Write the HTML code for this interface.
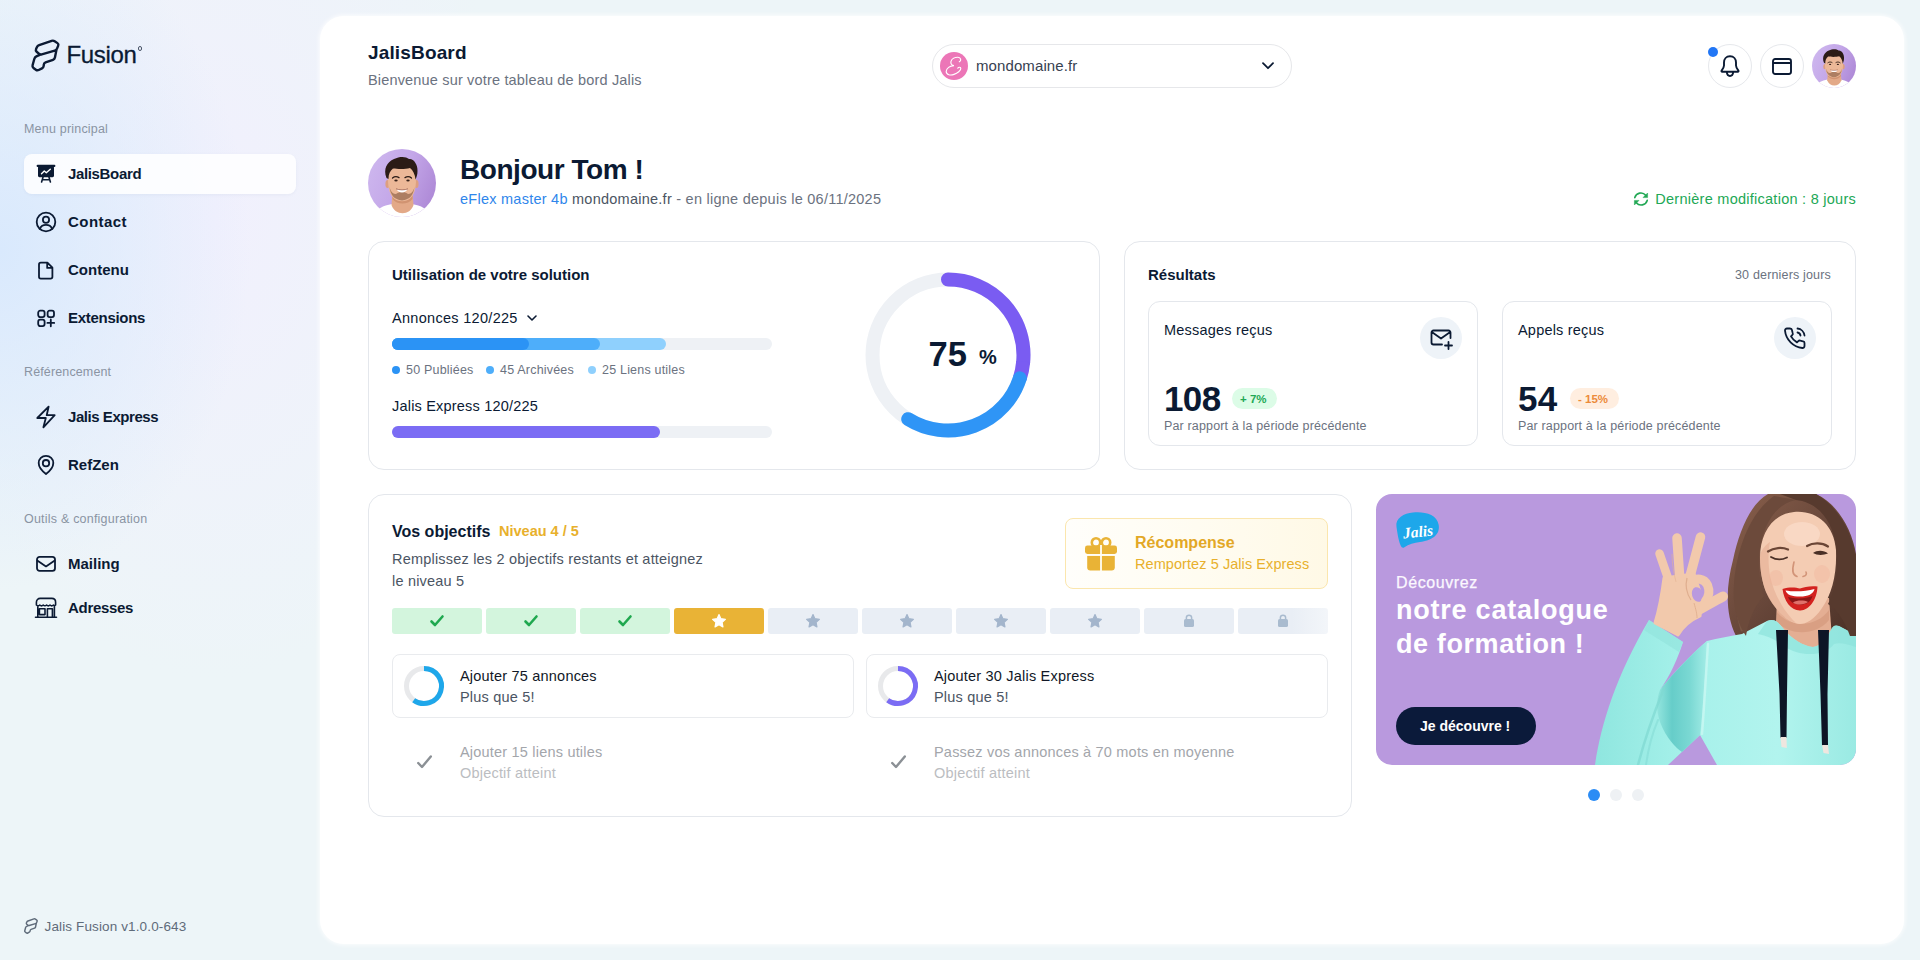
<!DOCTYPE html>
<html lang="fr">
<head>
<meta charset="utf-8">
<title>JalisBoard</title>
<style>
*{box-sizing:border-box;margin:0;padding:0}
html,body{width:1920px;height:960px;overflow:hidden}
body{font-family:"Liberation Sans",sans-serif;color:#0b1a33;position:relative;
background:
 radial-gradient(ellipse 250px 340px at 0px 250px,rgba(217,233,253,1) 0%,rgba(217,233,253,0) 100%),
 radial-gradient(ellipse 300px 460px at 215px 220px,rgba(241,240,253,1) 0%,rgba(241,240,253,0) 100%),
 #edf5f8;}
.t{position:absolute;white-space:nowrap;line-height:1}
.b{font-weight:700}
.abs{position:absolute}
svg{position:absolute;overflow:visible}
.ic{fill:none;stroke:#0b1a33;stroke-width:1.8;stroke-linecap:round;stroke-linejoin:round}
.nav{position:absolute;left:68px;font-weight:700;font-size:15px;color:#0b1a33;line-height:1;white-space:nowrap}
.sec{position:absolute;left:24px;font-size:12.5px;color:#8a94a3;line-height:1;white-space:nowrap}
#main{position:absolute;left:320px;top:16px;width:1584px;height:928px;background:#fff;border-radius:24px;box-shadow:0 0 4px 1px rgba(255,255,255,.85)}
.card{position:absolute;background:#fff;border:1px solid #e4e7ec;border-radius:16px}
.sub{position:absolute;background:#fff;border:1px solid #e4e7ec;border-radius:12px}
.g{color:#6b7280}
</style>
</head>
<body>
<!-- SIDEBAR -->
<div id="side">
  <svg id="logo" style="left:32px;top:40px" width="30" height="32" viewBox="0 0 30 32"><path class="ic" style="stroke-width:2.4" d="M4.86 7.26 Q5.54 5.71 7.15 5.15 L19.64 0.85 Q21.25 0.29 22.66 1.24 L25.46 3.13 Q26.87 4.08 26.22 5.65 L25.01 8.60 Q24.36 10.18 22.73 10.64 L9.75 14.32 Q8.11 14.78 6.83 13.66 L4.66 11.77 Q3.37 10.65 4.06 9.09 Z M24.50 9.63 L22.93 17.58 Q22.60 19.25 21.00 19.82 L13.57 22.47 Q11.97 23.04 11.80 24.73 L11.68 25.89 Q11.50 27.58 9.98 28.34 L6.72 29.99 Q5.20 30.76 3.85 29.73 L1.48 27.93 Q0.12 26.90 0.58 25.26 L2.38 18.72 Q2.83 17.08 4.38 16.38 L8.25 14.64"/></svg>
  <div class="t" id="fus" style="left:66.500px;top:43.300px;font-size:24px;letter-spacing:-.35px;color:#0b1a33;-webkit-text-stroke:.3px #0b1a33">Fusion</div>
  <div class="abs" style="left:137.500px;top:46px;width:4.500px;height:4.500px;border:1.200px solid #4a5568;border-radius:50%"></div>


  <div class="sec" style="top:122.500px;letter-spacing:.2px">Menu principal</div>
  <div class="abs" style="left:24px;top:154px;width:272px;height:40px;border-radius:8px;background:rgba(255,255,255,.85);box-shadow:0 1px 3px rgba(160,170,200,.12)"></div>
  <div class="nav" style="top:166px;letter-spacing:-0.35px">JalisBoard</div>
  <div class="nav" style="top:214px;letter-spacing:0.45px">Contact</div>
  <div class="nav" style="top:262px">Contenu</div>
  <div class="nav" style="top:310px;letter-spacing:-0.29px">Extensions</div>
  <div class="sec" style="top:365.500px;letter-spacing:.13px">Référencement</div>
  <div class="nav" style="top:409px;letter-spacing:-0.45px">Jalis Express</div>
  <div class="nav" style="top:457px">RefZen</div>
  <div class="sec" style="top:512.500px;letter-spacing:.21px">Outils &amp; configuration</div>
  <div class="nav" style="top:556px">Mailing</div>
  <div class="nav" style="top:600px;letter-spacing:-0.3px">Adresses</div>

  <!-- nav icons -->
  <svg style="left:36px;top:164px" width="20" height="20" viewBox="0 0 20 20"><rect x="0.600" y="0.800" width="18.800" height="2.200" rx="1" fill="#0b1a33"/><rect x="2" y="2" width="16" height="11.200" rx="1.400" fill="#0b1a33"/><path d="M5.500 9.800 L8.300 7 L10.300 8.800 L14.300 5.200" fill="none" stroke="#fff" stroke-width="1.400" stroke-linecap="round" stroke-linejoin="round"/><path class="ic" style="stroke-width:1.600" d="M7 13.200 L5.600 18 M13 13.200 L14.400 18 M6.200 15.800 L13.800 15.800"/></svg>
  <svg style="left:35px;top:211px" width="22" height="22" viewBox="0 0 22 22"><circle class="ic" cx="11" cy="11" r="9.300"/><circle class="ic" cx="11" cy="8.700" r="3.100"/><path class="ic" d="M4.800 17.800 C6 15 8.400 13.900 11 13.900 C13.600 13.900 16 15 17.200 17.800"/></svg>
  <svg style="left:38px;top:261px" width="16" height="19" viewBox="0 0 16 19"><path class="ic" d="M2.800 1.700 L9.400 1.700 L14.400 6.700 L14.400 15.800 C14.400 16.800 13.600 17.600 12.600 17.600 L2.800 17.600 C1.800 17.600 1 16.800 1 15.800 L1 3.500 C1 2.500 1.800 1.700 2.800 1.700 Z M9.200 2 L9.200 6.900 L14.200 6.900"/></svg>
  <svg style="left:37px;top:309px" width="19" height="18" viewBox="0 0 19 18"><rect class="ic" x="1.200" y="1.700" width="6.400" height="6.400" rx="2"/><rect class="ic" x="10.600" y="1.700" width="6.400" height="6.400" rx="2"/><rect class="ic" x="1.200" y="10.700" width="6.400" height="6.400" rx="2"/><path class="ic" d="M13.800 10.500 L13.800 17.300 M10.400 13.900 L17.200 13.900"/></svg>
  <svg style="left:36px;top:405px" width="20" height="24" viewBox="0 0 20 24"><path class="ic" d="M12.600 1.700 L1.300 13 L9.800 13 L7.400 22.300 L18.700 10.200 L10.700 10.200 Z"/></svg>
  <svg style="left:37px;top:454px" width="18" height="22" viewBox="0 0 18 22"><path class="ic" d="M9 1.800 C4.900 1.800 1.700 5 1.700 9 C1.700 13.400 5.600 17.400 9 20 C12.400 17.400 16.300 13.400 16.300 9 C16.300 5 13.100 1.800 9 1.800 Z"/><circle class="ic" cx="9" cy="9.200" r="3.200"/></svg>
  <svg style="left:36px;top:556px" width="20" height="16" viewBox="0 0 20 16"><rect class="ic" x="1" y="0.900" width="18" height="14" rx="2.600"/><path class="ic" d="M1.600 4.800 L10 10.400 L18.400 4.800"/></svg>
  <svg style="left:35px;top:597px" width="22" height="21" viewBox="0 0 22 21"><path class="ic" style="stroke-width:1.600" d="M1.400 8 L1.400 5.200 C1.400 3 3 1.400 5.200 1.400 L16.800 1.400 C19 1.400 20.600 3 20.600 5.200 L20.600 8 M1.400 8 C2.400 9 3.800 9 4.800 8 C5.800 9 7.200 9 8.200 8 C9.200 9 10.600 9 11.600 8 C12.600 9 14 9 15 8 C16 9 17.400 9 18.400 8 C19.200 8.800 20 8.600 20.600 8 M2.800 8.800 L2.800 20 M19.400 8.800 L19.400 20 M0.500 20.200 L21.500 20.200 M4.400 11.700 L10 11.700 L10 17.600 L4.400 17.600 Z M12.400 20 L12.400 11.700 L17.400 11.700 L17.400 20"/></svg>
  <svg style="left:24px;top:918px" width="14" height="16" viewBox="-1 -1 29 33"><path class="ic" style="stroke-width:3;stroke:#5f6b7a" d="M4.86 7.26 Q5.54 5.71 7.15 5.15 L19.64 0.85 Q21.25 0.29 22.66 1.24 L25.46 3.13 Q26.87 4.08 26.22 5.65 L25.01 8.60 Q24.36 10.18 22.73 10.64 L9.75 14.32 Q8.11 14.78 6.83 13.66 L4.66 11.77 Q3.37 10.65 4.06 9.09 Z M24.50 9.63 L22.93 17.58 Q22.60 19.25 21.00 19.82 L13.57 22.47 Q11.97 23.04 11.80 24.73 L11.68 25.89 Q11.50 27.58 9.98 28.34 L6.72 29.99 Q5.20 30.76 3.85 29.73 L1.48 27.93 Q0.12 26.90 0.58 25.26 L2.38 18.72 Q2.83 17.08 4.38 16.38 L8.25 14.64"/></svg>
  <div class="t" id="ver" style="left:44.500px;top:919.700px;font-size:13.5px;letter-spacing:.13px;color:#5f6b7a">Jalis Fusion v1.0.0-643</div>
</div>

<!-- MAIN -->
<div id="main"></div>

<!-- HEADER -->
<div class="t b" style="left:368px;top:43px;font-size:19px;letter-spacing:.15px;color:#0b1a33">JalisBoard</div>
<div class="t g" style="left:368px;top:73px;font-size:14.5px;letter-spacing:.17px">Bienvenue sur votre tableau de bord Jalis</div>

<div class="abs" style="left:932px;top:43.500px;width:360px;height:44px;border:1px solid #e6e7ea;border-radius:22px;background:#fff"></div>
<div class="abs" style="left:940px;top:51.500px;width:28px;height:28px;border-radius:50%;background:#ec76b7"></div>
<svg style="left:940px;top:51.500px" width="28" height="28" viewBox="0 0 28 28"><path d="M19.300 9.800 C21.600 8.800 21 5.400 18 5.300 C15 5.200 11.800 6.800 11 9.400 C10.400 11.600 11.600 13.400 14 13.600 C10 13.600 6.200 16.400 6.200 19.600 C6.200 23 10.600 23.600 14 22.400 C17.600 21.200 20.800 18.400 20.800 16.600 C20.800 15 18.800 14.800 17.800 16.200" fill="none" stroke="#fff" stroke-width="1.150" stroke-linecap="round"/></svg>
<div class="t" style="left:976px;top:57.500px;font-size:15px;letter-spacing:.1px;color:#374151">mondomaine.fr</div>
<svg style="left:1262px;top:61.500px" width="12" height="8" viewBox="0 0 12 8"><path class="ic" style="stroke-width:1.8" d="M1 1.2 L6 6.2 L11 1.2"/></svg>

<div class="abs" style="left:1708px;top:43.500px;width:44px;height:44px;border:1px solid #e6e8ec;border-radius:50%;background:#fff"></div>
<div class="abs" style="left:1760px;top:43.500px;width:44px;height:44px;border:1px solid #e6e8ec;border-radius:50%;background:#fff"></div>
<div class="abs" style="left:1708px;top:46.500px;width:10px;height:10px;border-radius:50%;background:#2176f5"></div>
<svg style="left:1720px;top:54.700px" width="20" height="22" viewBox="0 0 20 22"><path class="ic" style="stroke-width:1.9" d="M10 1.2 C6.2 1.2 4 4 4 7.4 L4 10.6 C4 12.4 3 13.8 1.6 15.6 C1.2 16.2 1.5 16.8 2.2 16.8 L17.8 16.8 C18.5 16.8 18.8 16.2 18.4 15.6 C17 13.8 16 12.4 16 10.6 L16 7.4 C16 4 13.8 1.2 10 1.2 Z M6.8 17.2 C7 19.4 8.4 21 10 21 C11.6 21 13 19.400 13.2 17.2"/></svg>
<svg style="left:1772px;top:57.500px" width="20" height="17" viewBox="0 0 20 17"><path class="ic" style="stroke-width:1.9" d="M3.2 1 L16.8 1 C18 1 19 2 19 3.2 L19 13.8 C19 15 18 16 16.8 16 L3.2 16 C2 16 1 15 1 13.8 L1 3.2 C1 2 2 1 3.2 1 Z M1 5 L19 5"/></svg>
<!-- top avatar -->
<svg style="left:1812px;top:43.500px" width="44" height="44" viewBox="0 0 68 68"><use href="#avatar"/></svg>

<!-- GREETING -->
<svg style="left:368px;top:149px" width="68" height="68" viewBox="0 0 68 68">
 <defs>
  <linearGradient id="avbg" x1="0" y1="0.3" x2="1" y2="0.7"><stop offset="0" stop-color="#cdb6ee"/><stop offset=".5" stop-color="#c3a6e8"/><stop offset="1" stop-color="#ad88d6"/></linearGradient>
  <clipPath id="avc"><circle cx="34" cy="34" r="34"/></clipPath>
  <g id="avatar">
   <circle cx="34" cy="34" r="34" fill="url(#avbg)"/>
   <g clip-path="url(#avc)">
    <path d="M4 72 C6 60 14 57 24 55 L44 55 C54 57 62 60 64 72 Z" fill="#ffffff"/>
    <path d="M24.5 44 L44.5 44 L45.5 56 C42 67 27 67 23.5 56 Z" fill="#e3a988"/>
    <path d="M24.5 46 C28 53 40 53 44.5 46 L44.5 50 C40 56 29 56 24.5 50 Z" fill="#c98a68" opacity=".7"/>
    <ellipse cx="19.6" cy="35" rx="2.2" ry="4" fill="#dd9f80"/>
    <ellipse cx="48.4" cy="35" rx="2.2" ry="4" fill="#dd9f80"/>
    <path d="M20 30 C20 20 26 16 34 16 C42 16 48 20 48 30 C48 40 46 46 42 49.5 C38 53 30 53 26 49.5 C22 46 20 40 20 30 Z" fill="#ecb898"/>
    <path d="M21.5 38 C22.5 46 26 50.5 34 51.5 C42 50.5 45.500 46 46.500 38 C45 44 41 46.500 38.500 44 C36 42.500 32 42.500 29.500 44 C27 46.500 23 44 21.500 38 Z" fill="#7a4e36" opacity=".55"/>
    <path d="M18.500 29 C15 20 19 13 26 10 C32 7 38 7.500 41 10 C45 9 50 15 49.500 22 C49.500 26 48.500 28 47.500 30.500 C47 25 45 21.500 42 19 C37 20.500 29 20 25 19.500 C22 22 20.500 25 20.500 30 Z" fill="#2b1b16"/>
    <path d="M24.5 29 C26.5 27.4 29 27.4 31 28.600 M37 28.600 C39 27.400 41.500 27.400 43.500 29" stroke="#2b1b16" stroke-width="1.3" fill="none" stroke-linecap="round"/>
    <ellipse cx="28" cy="31.500" rx="1.700" ry="1" fill="#3a241c"/><ellipse cx="40" cy="31.500" rx="1.700" ry="1" fill="#3a241c"/>
    <path d="M28.500 40 C31 41 37 41 39.500 40 C38 44.500 30 44.500 28.500 40 Z" fill="#fff"/>
    <path d="M28 39.800 C31 41.200 37 41.200 40 39.800" stroke="#9a5a48" stroke-width=".8" fill="none"/>
   </g>
  </g>
 </defs>
 <use href="#avatar"/>
</svg>
<div class="t b" style="left:460px;top:156px;font-size:28px;color:#0b1a33;letter-spacing:-.45px">Bonjour Tom !</div>
<div class="t" style="left:460px;top:192px;font-size:14.5px;letter-spacing:.25px;color:#6b7280"><span style="color:#2f86eb">eFlex master 4b</span> <span style="color:#4b5563">mondomaine.fr</span> - en ligne depuis le 06/11/2025</div>

<svg style="left:1632.500px;top:191px" width="16" height="16" viewBox="0 0 16 16"><path d="M1.800 6.600 A6.300 6.300 0 0 1 12.700 4.300 M14.200 9.400 A6.300 6.300 0 0 1 3.300 11.700" fill="none" stroke="#22a855" stroke-width="1.650" stroke-linecap="round"/><path d="M14.600 2 L14.600 6.600 L10 6.600 Z M1.400 14 L1.400 9.400 L6 9.400 Z" fill="#22a855" stroke="#22a855" stroke-width=".5" stroke-linejoin="round"/></svg>
<div class="t" id="dm" style="right:64px;top:192px;font-size:14.5px;letter-spacing:.26px;color:#22a855">Dernière modification : 8 jours</div>

<!-- CARDS -->
<div class="card" style="left:368px;top:241px;width:732px;height:229px"></div>
<div class="t b" style="left:392px;top:267px;font-size:15px">Utilisation de votre solution</div>
<div class="t" style="left:392px;top:311px;font-size:14.5px;letter-spacing:.3px;color:#0b1a33">Annonces 120/225</div>
<svg style="left:527px;top:315px" width="10" height="7" viewBox="0 0 10 7"><path class="ic" style="stroke-width:1.6" d="M1 1 L5 5 L9 1"/></svg>
<div class="abs" style="left:392px;top:338px;width:380px;height:12px;border-radius:6px;background:#eef1f5"></div>
<div class="abs" style="left:392px;top:338px;width:274px;height:12px;border-radius:6px;background:#8fd0fd"></div>
<div class="abs" style="left:392px;top:338px;width:208px;height:12px;border-radius:6px;background:#4eaefa"></div>
<div class="abs" style="left:392px;top:338px;width:137px;height:12px;border-radius:6px;background:#2b93f5"></div>
<div class="abs" style="left:392px;top:366px;width:8px;height:8px;border-radius:50%;background:#2b93f5"></div>
<div class="t g" style="left:406px;top:364px;font-size:12.5px;letter-spacing:.2px">50 Publiées</div>
<div class="abs" style="left:486px;top:366px;width:8px;height:8px;border-radius:50%;background:#4eaefa"></div>
<div class="t g" style="left:500px;top:364px;font-size:12.5px;letter-spacing:.2px">45 Archivées</div>
<div class="abs" style="left:588px;top:366px;width:8px;height:8px;border-radius:50%;background:#8fd0fd"></div>
<div class="t g" style="left:602px;top:364px;font-size:12.5px;letter-spacing:.2px">25 Liens utiles</div>
<div class="t" style="left:392px;top:399px;font-size:14.5px;letter-spacing:.2px;color:#0b1a33">Jalis Express 120/225</div>
<div class="abs" style="left:392px;top:426px;width:380px;height:12px;border-radius:6px;background:#eef1f5"></div>
<div class="abs" style="left:392px;top:426px;width:268px;height:12px;border-radius:6px;background:#7b6cf4"></div>
<!-- donut -->
<svg style="left:858px;top:265.300px" width="180" height="180" viewBox="0 0 180 180">
 <circle cx="90" cy="90" r="75.5" fill="none" stroke="#eef1f5" stroke-width="14"/>
 <path d="M 90.00 14.50 A 75.5 75.5 0 0 1 165.21 96.58" fill="none" stroke="#7a5cf2" stroke-width="14" stroke-linecap="round"/>
 <path d="M 165.21 96.58 A 75.5 75.5 0 0 1 161.80 113.33" fill="none" stroke="#7a5cf2" stroke-width="14"/>
 <path d="M 161.80 113.33 A 75.5 75.5 0 0 1 50.21 154.17" fill="none" stroke="#2f95f6" stroke-width="14" stroke-linecap="round"/>
</svg>
<div class="t b" style="left:928.500px;top:336.500px;font-size:34.5px;color:#0b1a33">75</div>
<div class="t b" style="left:979px;top:347px;font-size:20px;color:#0b1a33">%</div>

<div class="card" style="left:1124px;top:241px;width:732px;height:229px"></div>
<div class="t b" style="left:1148px;top:267px;font-size:15px">Résultats</div>
<div class="t g" style="right:89px;top:269px;font-size:12.500px;letter-spacing:.17px">30 derniers jours</div>
<div class="sub" style="left:1148px;top:301px;width:330px;height:145px"></div>
<div class="sub" style="left:1502px;top:301px;width:330px;height:145px"></div>
<div class="t" style="left:1164px;top:323px;font-size:14.5px;letter-spacing:.2px;color:#0b1a33">Messages reçus</div>
<div class="t" style="left:1518px;top:323px;font-size:14.5px;letter-spacing:.2px;color:#0b1a33">Appels reçus</div>
<div class="abs" style="left:1420px;top:317px;width:42px;height:42px;border-radius:50%;background:#eef3f8"></div>
<div class="abs" style="left:1774px;top:317px;width:42px;height:42px;border-radius:50%;background:#eef3f8"></div>
<svg style="left:1430px;top:329px" width="24" height="22" viewBox="0 0 24 22"><path class="ic" style="stroke-width:1.8" d="M20.500 9 L20.500 3.500 C20.500 2.400 19.600 1.500 18.500 1.500 L3.500 1.500 C2.400 1.500 1.500 2.400 1.500 3.500 L1.500 13.500 C1.500 14.600 2.400 15.500 3.500 15.500 L12 15.500 M1.800 3 L11 9.500 L20.200 3 M18.500 13 L18.500 20 M15 16.500 L22 16.500"/></svg>
<svg style="left:1783px;top:326px" width="24" height="24" viewBox="0 0 24 24"><path class="ic" style="stroke-width:1.8" d="M14.500 2.500 C18.200 2.900 21.100 5.800 21.500 9.500 M14.500 6.500 C16.100 6.800 17.200 7.900 17.500 9.500 M21.500 17 L21.500 20 C21.500 21.200 20.500 22.100 19.300 22 C10.300 21.100 2.900 13.700 2 4.700 C1.900 3.500 2.800 2.500 4 2.500 L7 2.500 C8 2.500 8.900 3.200 9 4.200 C9.100 5.200 9.400 6.100 9.700 7 C10 7.700 9.800 8.600 9.200 9.100 L8 10.400 C9.400 12.900 11.500 15 14 16.400 L15.300 15.100 C15.800 14.600 16.700 14.400 17.400 14.700 C18.300 15 19.200 15.300 20.200 15.400 C21.200 15.500 21.500 16 21.500 17 Z"/></svg>
<div class="t b" style="left:1164px;top:381px;font-size:35px;color:#0b1a33;letter-spacing:-.6px">108</div>
<div class="t b" style="left:1518px;top:381px;font-size:35px;color:#0b1a33;letter-spacing:.2px">54</div>
<div class="abs" style="left:1232px;top:388px;width:45px;height:21px;border-radius:11px;background:#dcfce7"></div>
<div class="t b" style="left:1240px;top:394px;font-size:11.500px;color:#22a855">+ 7%</div>
<div class="abs" style="left:1570px;top:388px;width:49px;height:21px;border-radius:11px;background:#ffeee0"></div>
<div class="t b" style="left:1578px;top:394px;font-size:11.500px;color:#ec8a3a">- 15%</div>
<div class="t g" style="left:1164px;top:420px;font-size:12.500px;letter-spacing:.15px">Par rapport à la période précédente</div>
<div class="t g" style="left:1518px;top:420px;font-size:12.500px;letter-spacing:.15px">Par rapport à la période précédente</div>

<!-- OBJECTIFS -->
<div class="card" style="left:368px;top:494px;width:984px;height:323px"></div>
<div class="t b" style="left:392px;top:523.500px;font-size:16px">Vos objectifs</div>
<div class="t b" style="left:499px;top:524px;font-size:14.5px;color:#e8b02c">Niveau 4 / 5</div>
<div class="t" style="left:392px;top:552px;font-size:14.5px;letter-spacing:.2px;color:#4b5563">Remplissez les 2 objectifs restants et atteignez</div>
<div class="t" style="left:392px;top:574px;font-size:14.5px;letter-spacing:.2px;color:#4b5563">le niveau 5</div>

<div class="abs" style="left:1065px;top:518px;width:263px;height:71px;border:1px solid #fbe6ad;border-radius:8px;background:linear-gradient(90deg,#fffefb 0%,#fffcf1 50%,#fff9e6 100%)"></div>
<svg style="left:1085px;top:536px" width="32" height="35" viewBox="0 0 32 35">
 <g fill="none" stroke="#e9b336" stroke-width="2.600"><circle cx="11" cy="6.500" r="4.200"/><circle cx="21" cy="6.500" r="4.200"/></g>
 <rect x="0" y="9.500" width="32" height="8.500" rx="2.400" fill="#e9b336"/>
 <path d="M2.200 19.800 L29.800 19.800 L29.800 31.600 C29.800 33.400 28.600 34.600 26.800 34.600 L5.200 34.600 C3.400 34.600 2.200 33.400 2.200 31.600 Z" fill="#e9b336"/>
 <rect x="15.100" y="9" width="1.800" height="26" fill="#fffdf6"/>
 <rect x="2" y="18" width="28" height="1.800" fill="#fffdf6"/>
</svg>
<div class="t b" style="left:1135px;top:535px;font-size:16px;color:#e3a826">Récompense</div>
<div class="t" style="left:1135px;top:557px;font-size:14.5px;letter-spacing:.07px;color:#e8b02c">Remportez 5 Jalis Express</div>

<div class="abs" style="left:392px;top:608px;width:90px;height:26px;border-radius:3px;background:#d3f5dd"></div>
<svg style="left:430px;top:615px" width="14" height="12" viewBox="0 0 14 12"><path d="M1.500 6.500 L5 10 L12.500 1.500" fill="none" stroke="#1fa84f" stroke-width="2.600" stroke-linecap="round" stroke-linejoin="round"/></svg>
<div class="abs" style="left:486px;top:608px;width:90px;height:26px;border-radius:3px;background:#d3f5dd"></div>
<svg style="left:524px;top:615px" width="14" height="12" viewBox="0 0 14 12"><path d="M1.500 6.500 L5 10 L12.500 1.500" fill="none" stroke="#1fa84f" stroke-width="2.600" stroke-linecap="round" stroke-linejoin="round"/></svg>
<div class="abs" style="left:580px;top:608px;width:90px;height:26px;border-radius:3px;background:#d3f5dd"></div>
<svg style="left:618px;top:615px" width="14" height="12" viewBox="0 0 14 12"><path d="M1.500 6.500 L5 10 L12.500 1.500" fill="none" stroke="#1fa84f" stroke-width="2.600" stroke-linecap="round" stroke-linejoin="round"/></svg>
<div class="abs" style="left:674px;top:608px;width:90px;height:26px;border-radius:3px;background:#e9b336"></div>
<svg style="left:712px;top:614px" width="14" height="14" viewBox="0 0 14 14"><path d="M7 0.6 L8.9 4.700 L13.400 5.300 L10.100 8.400 L10.950 12.900 L7 10.700 L3.050 12.900 L3.900 8.400 L0.600 5.300 L5.100 4.700 Z" fill="#fff" stroke="#fff" stroke-width="1.2" stroke-linejoin="round"/></svg>
<div class="abs" style="left:768px;top:608px;width:90px;height:26px;border-radius:3px;background:#e9eef5"></div>
<svg style="left:806px;top:614px" width="14" height="14" viewBox="0 0 14 14"><path d="M7 0.6 L8.9 4.700 L13.400 5.300 L10.100 8.400 L10.950 12.900 L7 10.700 L3.050 12.900 L3.900 8.400 L0.600 5.300 L5.100 4.700 Z" fill="#a3b5cc" stroke="#a3b5cc" stroke-width="1.2" stroke-linejoin="round"/></svg>
<div class="abs" style="left:862px;top:608px;width:90px;height:26px;border-radius:3px;background:#e9eef5"></div>
<svg style="left:900px;top:614px" width="14" height="14" viewBox="0 0 14 14"><path d="M7 0.6 L8.9 4.700 L13.400 5.300 L10.100 8.400 L10.950 12.900 L7 10.700 L3.050 12.900 L3.900 8.400 L0.600 5.300 L5.100 4.700 Z" fill="#a3b5cc" stroke="#a3b5cc" stroke-width="1.2" stroke-linejoin="round"/></svg>
<div class="abs" style="left:956px;top:608px;width:90px;height:26px;border-radius:3px;background:#e9eef5"></div>
<svg style="left:994px;top:614px" width="14" height="14" viewBox="0 0 14 14"><path d="M7 0.6 L8.9 4.700 L13.400 5.300 L10.100 8.400 L10.950 12.900 L7 10.700 L3.050 12.900 L3.900 8.400 L0.600 5.300 L5.100 4.700 Z" fill="#a3b5cc" stroke="#a3b5cc" stroke-width="1.2" stroke-linejoin="round"/></svg>
<div class="abs" style="left:1050px;top:608px;width:90px;height:26px;border-radius:3px;background:#e9eef5"></div>
<svg style="left:1088px;top:614px" width="14" height="14" viewBox="0 0 14 14"><path d="M7 0.6 L8.9 4.700 L13.400 5.300 L10.100 8.400 L10.950 12.900 L7 10.700 L3.050 12.900 L3.900 8.400 L0.600 5.300 L5.100 4.700 Z" fill="#a3b5cc" stroke="#a3b5cc" stroke-width="1.2" stroke-linejoin="round"/></svg>
<div class="abs" style="left:1144px;top:608px;width:90px;height:26px;border-radius:3px;background:#e9eef5"></div>
<svg style="left:1184px;top:614px" width="10" height="13" viewBox="0 0 10 13"><path d="M2.400 5.500 L2.400 3.600 C2.400 0.400 7.600 0.400 7.600 3.600 L7.600 5.500" fill="none" stroke="#a9bbcf" stroke-width="1.500"/><rect x="0" y="5" width="10" height="8" rx="1.600" fill="#a9bbcf"/></svg>
<div class="abs" style="left:1238px;top:608px;width:90px;height:26px;border-radius:3px;background:linear-gradient(90deg,#e9eef5 60%,rgba(233,238,245,.55) 100%)"></div>
<svg style="left:1278px;top:614px" width="10" height="13" viewBox="0 0 10 13"><path d="M2.400 5.500 L2.400 3.600 C2.400 0.400 7.600 0.400 7.600 3.600 L7.600 5.500" fill="none" stroke="#a9bbcf" stroke-width="1.500"/><rect x="0" y="5" width="10" height="8" rx="1.600" fill="#a9bbcf"/></svg>

<div class="sub" style="left:392px;top:654px;width:462px;height:64px;border-radius:8px;border-color:#e9ebee"></div>
<div class="sub" style="left:866px;top:654px;width:462px;height:64px;border-radius:8px;border-color:#e9ebee"></div>
<svg style="left:402px;top:664px" width="44" height="44" viewBox="0 0 44 44"><circle cx="22" cy="22" r="17.500" fill="none" stroke="#e8e9eb" stroke-width="5"/><path d="M22 4.500 A17.500 17.500 0 1 1 11.700 36.150" fill="none" stroke="#1ea7ea" stroke-width="5"/></svg>
<svg style="left:876px;top:664px" width="44" height="44" viewBox="0 0 44 44"><circle cx="22" cy="22" r="17.500" fill="none" stroke="#e8e9eb" stroke-width="5"/><path d="M22 4.500 A17.500 17.500 0 1 1 11.700 36.150" fill="none" stroke="#7b6cf4" stroke-width="5"/></svg>
<div class="t" style="left:460px;top:669px;font-size:14.5px;letter-spacing:.2px;color:#111827">Ajouter 75 annonces</div>
<div class="t" style="left:460px;top:690px;font-size:14.5px;letter-spacing:.2px;color:#4b5563">Plus que 5!</div>
<div class="t" style="left:934px;top:669px;font-size:14.5px;letter-spacing:.2px;color:#111827">Ajouter 30 Jalis Express</div>
<div class="t" style="left:934px;top:690px;font-size:14.5px;letter-spacing:.2px;color:#4b5563">Plus que 5!</div>

<svg style="left:417px;top:755px" width="15" height="14" viewBox="0 0 15 14"><path d="M1.200 8 L5 12 L13.800 1.500" fill="none" stroke="#8b9095" stroke-width="2.400" stroke-linecap="round" stroke-linejoin="round"/></svg>
<svg style="left:891px;top:755px" width="15" height="14" viewBox="0 0 15 14"><path d="M1.200 8 L5 12 L13.800 1.500" fill="none" stroke="#8b9095" stroke-width="2.400" stroke-linecap="round" stroke-linejoin="round"/></svg>
<div class="t" style="left:460px;top:745px;font-size:14.5px;letter-spacing:.2px;color:#a3a6ab">Ajouter 15 liens utiles</div>
<div class="t" style="left:460px;top:766px;font-size:14.5px;letter-spacing:.2px;color:#bbbdc1">Objectif atteint</div>
<div class="t" style="left:934px;top:745px;font-size:14.5px;letter-spacing:.2px;color:#a3a6ab">Passez vos annonces à 70 mots en moyenne</div>
<div class="t" style="left:934px;top:766px;font-size:14.5px;letter-spacing:.2px;color:#bbbdc1">Objectif atteint</div>

<!-- BANNER -->
<svg style="left:1376px;top:494px" width="480" height="271" viewBox="0 0 480 271">
 <defs>
  <clipPath id="bc"><rect x="0" y="0" width="480" height="271" rx="16"/></clipPath>
  <linearGradient id="hd" x1="0" y1="0" x2="1" y2="0"><stop offset="0" stop-color="#8fe6df"/><stop offset=".35" stop-color="#a6f1ea"/><stop offset=".7" stop-color="#b2f4ee"/><stop offset="1" stop-color="#9aeae3"/></linearGradient>
  <linearGradient id="sh" x1="0" y1="0" x2="1" y2="0"><stop offset="0" stop-color="#93e5de"/><stop offset=".3" stop-color="#66cdc9"/><stop offset=".65" stop-color="#7ad8d3"/><stop offset="1" stop-color="#a2ece6"/></linearGradient>
  <linearGradient id="hair" x1="0" y1="0" x2="1" y2="1"><stop offset="0" stop-color="#8a604c"/><stop offset=".5" stop-color="#68473a"/><stop offset="1" stop-color="#4a3026"/></linearGradient>
 </defs>
 <g clip-path="url(#bc)">
  <rect width="480" height="271" fill="#b999de"/>
  <!-- hair back -->
  <path d="M392 0 C374 10 363 38 357 66 C350 92 349 120 360 142 L398 148 L480 148 L480 60 C476 36 462 10 440 0 Z" fill="url(#hair)"/>
  <path d="M366 60 C360 84 358 110 366 136" stroke="#84604c" stroke-width="3" fill="none" opacity=".6" stroke-linecap="round"/>
  <path d="M466 40 C474 60 476 90 470 120" stroke="#84604c" stroke-width="3" fill="none" opacity=".5" stroke-linecap="round"/>
  <!-- neck -->
  <path d="M401 104 L453 104 L457 158 L399 158 Z" fill="#e4ae93"/>
  <path d="M401 118 C414 134 440 134 453 116 L453 126 C440 142 414 142 401 128 Z" fill="#cf9377" opacity=".55"/>
  <!-- hoodie -->
  <path d="M219 271 C225 230 240 182 273 126 L307 148 C302 164 294 182 284 196 C298 178 316 160 331 147 C342 144 355 142 366 140 L391 127 C398 124 402 128 406 133 C416 146 428 152 437 153 C446 152 452 142 456 134 C458 131 460 131 463 132 L480 141 L480 271 L341 271 L324 241 L292 271 Z" fill="url(#hd)"/>
  <path d="M331 147 C316 160 298 178 284 196 C280 206 280 216 284 228 C290 244 300 254 306 258 L324 241 C326 226 328 200 331 147 Z" fill="url(#sh)"/>
  <path d="M273 126 L307 148 L303 158 L268 136 Z" fill="#93e4dd" opacity=".7"/>
  <path d="M288 194 C280 214 270 240 262 271" stroke="#7fd8d2" stroke-width="2.500" fill="none" opacity=".7" stroke-linecap="round"/>
  <path d="M282 226 C276 240 272 256 270 271" stroke="#86dcd5" stroke-width="2" fill="none" opacity=".6" stroke-linecap="round"/>
  <path d="M332 150 C330 180 328 215 326 240" stroke="#c9f7f2" stroke-width="2.500" fill="none" opacity=".8" stroke-linecap="round"/>
  <path d="M391 127 C398 124 402 128 406 133 C416 146 428 152 437 153 C446 152 452 142 456 134 C458 131 460 131 463 132 L480 141 L480 153 C470 150 464 148 458 150 C450 162 424 164 408 152 C400 146 392 142 382 140 Z" fill="#8de2db" opacity=".7"/>
  <!-- face -->
  <path d="M384 64 C384 40 396 20 418 18 C440 16 458 30 460 56 C461 80 456 100 446 114 C438 126 430 130 424 130 C414 130 398 116 390 98 C386 88 384 76 384 64 Z" fill="#f4ccb3"/>
  <path d="M384 64 C384 80 388 96 394 106 C400 116 410 126 420 129 C408 118 398 100 394 82 C392 70 392 58 394 48 C388 52 384 58 384 64 Z" fill="#e3ab8f" opacity=".55"/>
  <ellipse cx="426" cy="40" rx="18" ry="12" fill="#fbe0cf" opacity=".6"/>
  <ellipse cx="446" cy="80" rx="8" ry="9" fill="#f2b7a0" opacity=".45"/>
  <ellipse cx="400" cy="84" rx="7" ry="8" fill="#f0b49c" opacity=".4"/>
  <!-- hair front -->
  <path d="M420 6 C400 10 386 30 383 62 C382 78 384 92 388 102 C378 112 372 128 370 142 C362 130 356 112 358 90 C360 60 372 20 398 2 Z" fill="#6c4a3b"/>
  <path d="M420 6 C440 8 456 24 460 52 C462 76 460 96 452 110 C462 116 470 130 474 142 L480 142 L480 70 C478 40 462 12 440 0 L404 0 Z" fill="#573a2e"/>
  <!-- brows / eyes -->
  <path d="M392 57.500 C398 53.500 406 53 412 55.500" stroke="#6b4636" stroke-width="2.200" fill="none" stroke-linecap="round"/>
  <path d="M431 52 C437 48.500 446 48.500 452 52.500" stroke="#6b4636" stroke-width="2.200" fill="none" stroke-linecap="round"/>
  <path d="M395 63 C400 66 406 66 411 63.500" stroke="#4a3026" stroke-width="1.800" fill="none" stroke-linecap="round"/>
  <path d="M437 59 C441 56 448 56 452 59.500 C447 61.500 441 61.500 437 59 Z" fill="#4a3026"/>
  <path d="M418 68 C416 76 416 81 421 82.500 M427 82.500 C430 82 431 80 430 78" stroke="#d29478" stroke-width="1.600" fill="none" stroke-linecap="round"/>
  <!-- mouth -->
  <path d="M406.500 95 C414 92.500 420 93.500 424 94.500 C428 93 435 91.500 441.500 92.500 C441 106 433 116 424.500 116.500 C415 117 408 107 406.500 95 Z" fill="#d3221f"/>
  <path d="M409.500 96.500 C418 98 430 97.500 438.500 95 C437.500 100 432 102.500 424 102.500 C416 102.500 411 101 409.500 96.500 Z" fill="#ffffff"/>
  <path d="M412 103 C418 105 430 105 436.500 102 C435 108 430 110.500 424.500 110.500 C418 110.500 414 108 412 103 Z" fill="#8a1616"/>
  <path d="M417 108.500 C421 106 428 106 432 108 C429 111 420 111.500 417 108.500 Z" fill="#e0706a"/>
  <!-- strings -->
  <path d="M400 136 L412 136 L411 200 L410.500 244 L404.500 244 L403.500 200 Z" fill="#0d1526"/>
  <path d="M442 136 L453 136 L451.500 200 L452 252 L446 252 L444.500 200 Z" fill="#0d1526"/>
  <path d="M404.500 243 L410.500 243 L410.800 254 L405.500 253 Z" fill="#efe6df"/>
  <path d="M446 251 L452 251 L453 260 L447.500 259 Z" fill="#efe6df"/>
  <!-- hand -->
  <g fill="#f2c9ac" stroke="#f2c9ac" stroke-linecap="round" stroke-linejoin="round">
   <path d="M283.500 59.500 L294 90" stroke-width="8.500" fill="none"/>
   <path d="M301 44 L304 88" stroke-width="9.500" fill="none"/>
   <path d="M324.500 43 L313 86" stroke-width="9.500" fill="none"/>
   <path d="M288 84 C286 100 283 116 279 129 L302 141 C308 131 315 126 324 122 L326 104 L318 80 Z" stroke-width="3"/>
  </g>
  <ellipse cx="321.500" cy="100.500" rx="5.500" ry="7.500" transform="rotate(-18 321.500 100.500)" fill="#b999de"/>
  <g fill="none" stroke="#f2c9ac" stroke-linecap="round" stroke-linejoin="round">
   <path d="M316.500 88 C320 83.500 328 84 331.500 91 C334 97 332.500 103 329.500 107" stroke-width="9"/>
   <path d="M321 117 C330 112 340 106 347 102.500" stroke-width="10"/>
  </g>
  <path d="M311 84 C309 92 311 100 315 106" stroke="#dba888" stroke-width="1.200" fill="none" opacity=".8"/>
  <path d="M318 109 C320 116 321 120 321 124" stroke="#dba888" stroke-width="1" fill="none" opacity=".7"/>
  <path d="M296 60 C296 70 298 80 300 88" stroke="#e2b393" stroke-width="1" fill="none" opacity=".6"/>
  <!-- logo -->
  <path d="M20.500 33 C19 24 28 19.500 37 18.600 C48 17.500 61 20 62.700 31 C64.300 41.500 55 46.500 44 48 C38 48.800 33 50 28 53.500 C24 56 21.500 40 20.500 33 Z" fill="#1ea7ea"/>
  <text x="27" y="43" font-family="Liberation Serif, serif" font-style="italic" font-weight="700" font-size="15.500" fill="#fff" transform="rotate(-6 42 38)">Jalis</text>
 </g>
</svg>
<div class="t" style="left:1396px;top:574.500px;font-size:16px;letter-spacing:.6px;color:#fbf8fe;-webkit-text-stroke:.25px #fbf8fe">Découvrez</div>
<div class="t b" id="bn1" style="left:1396px;top:596.500px;font-size:27px;letter-spacing:.77px;color:#fff">notre catalogue</div>
<div class="t b" id="bn2" style="left:1396px;top:631px;font-size:27px;letter-spacing:.6px;color:#fff">de formation !</div>
<div class="abs" style="left:1396px;top:707px;width:140px;height:38px;border-radius:19px;background:#0b1a3a"></div>
<div class="t b" id="bnb" style="left:1420px;top:719px;font-size:14px;color:#fff">Je découvre !</div>
<div class="abs" style="left:1588px;top:789px;width:12px;height:12px;border-radius:50%;background:#2b8cf5"></div>
<div class="abs" style="left:1610px;top:789px;width:12px;height:12px;border-radius:50%;background:#eef1f4"></div>
<div class="abs" style="left:1632px;top:789px;width:12px;height:12px;border-radius:50%;background:#eef1f4"></div>

</body>
</html>
